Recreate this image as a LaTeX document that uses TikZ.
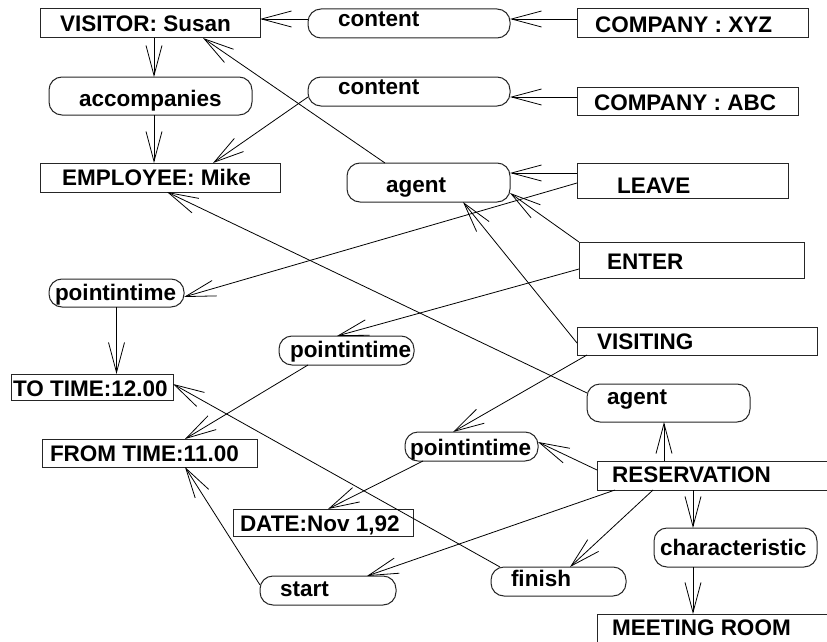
\documentclass[tikz,border=0pt]{standalone}
\usepackage{fontspec}
\setmainfont{Liberation Sans}
\usetikzlibrary{arrows.meta}
\begin{document}
\begin{tikzpicture}[x=1pt,y=-1pt,
  rbox/.style={draw=black!85,line width=1pt,inner sep=0pt,outer sep=0pt,rectangle},
  obox/.style={rbox,rounded corners=13pt},
  txt/.style={anchor=base west,inner sep=0pt,outer sep=0pt,font=\fontsize{22.5}{27}\selectfont\bfseries},
  arr/.style={line width=0.8pt,-{Straight Barb[length=30pt,width=16pt,line width=0.8pt]}}]
\useasboundingbox (0,0) rectangle (827,642);
\clip (0,0) rectangle (827,642);
\fill[white] (0,0) rectangle (827,642);
% boxes
\node[rbox,minimum width=220pt,minimum height=29pt] (vis) at (150,23.5) {};
\node[obox,minimum width=202pt,minimum height=29pt] (cont1) at (409,23.5) {};
\node[rbox,minimum width=231pt,minimum height=29pt] (xyz) at (692.5,23.5) {};
\node[obox,minimum width=203pt,minimum height=38pt] (acc) at (150.5,96) {};
\node[obox,minimum width=202pt,minimum height=29pt] (cont2) at (409,91.5) {};
\node[rbox,minimum width=221pt,minimum height=28pt] (abc) at (687.5,101) {};
\node[rbox,minimum width=240pt,minimum height=29pt] (emp) at (160,177.5) {};
\node[obox,minimum width=163pt,minimum height=39pt] (ag1) at (428.5,182.5) {};
\node[rbox,minimum width=211pt,minimum height=35pt] (leave) at (682.5,180.5) {};
\node[rbox,minimum width=225pt,minimum height=36pt] (enter) at (691.5,260) {};
\node[obox,minimum width=135pt,minimum height=28pt] (pt1) at (116.5,293) {};
\node[rbox,minimum width=240pt,minimum height=28pt] (visiting) at (697,341) {};
\node[obox,minimum width=135pt,minimum height=29pt] (pt2) at (346.5,350.5) {};
\node[rbox,minimum width=162pt,minimum height=26pt] (totime) at (92,387) {};
\node[obox,minimum width=163pt,minimum height=38pt] (ag2) at (668.5,403) {};
\node[rbox,minimum width=215pt,minimum height=28pt] (from) at (149.5,453) {};
\node[obox,minimum width=133pt,minimum height=29pt] (pt3) at (471.5,446.5) {};
\node[rbox,minimum width=243pt,minimum height=29pt] (res) at (718.5,475.5) {};
\node[rbox,minimum width=180pt,minimum height=27pt] (date) at (323,522.5) {};
\node[obox,minimum width=163pt,minimum height=39pt] (char) at (735.5,547.5) {};
\node[obox,minimum width=136pt,minimum height=29pt] (start) at (328,590.5) {};
\node[obox,minimum width=135pt,minimum height=29pt] (finish) at (558.5,581.5) {};
\node[rbox,minimum width=253pt,minimum height=46pt] (meet) at (723.5,637) {};
% texts
\node[txt] (vis-t) at (60,31.7) {VISITOR: Susan};
\node[txt] (cont1-t) at (338,27) {content};
\node[txt] (xyz-t) at (595,33) {COMPANY : XYZ};
\node[txt] (acc-t) at (79,106) {accompanies};
\node[txt] (cont2-t) at (338,95) {content};
\node[txt] (abc-t) at (594,110) {COMPANY : ABC};
\node[txt] (emp-t) at (62,185) {EMPLOYEE: Mike};
\node[txt] (ag1-t) at (386,192) {agent};
\node[txt] (leave-t) at (617,193) {LEAVE};
\node[txt] (enter-t) at (607,269) {ENTER};
\node[txt] (pt1-t) at (55,300) {pointintime};
\node[txt] (visiting-t) at (597,349) {VISITING};
\node[txt] (pt2-t) at (290,357) {pointintime};
\node[txt] (totime-t) at (13,396) {TO TIME:12.00};
\node[txt] (ag2-t) at (607,404) {agent};
\node[txt] (from-t) at (50,461) {FROM TIME:11.00};
\node[txt] (pt3-t) at (410,455) {pointintime};
\node[txt] (res-t) at (612,482) {RESERVATION};
\node[txt] (date-t) at (240,531) {DATE:Nov 1,92};
\node[txt] (char-t) at (660,555) {characteristic};
\node[txt] (start-t) at (280,596) {start};
\node[txt] (finish-t) at (511,586) {finish};
\node[txt] (meet-t) at (612,635) {MEETING ROOM};
% helper points on boxes
\coordinate (resup) at ([xshift=67pt]res.north west);
\coordinate (resdn) at ([xshift=96pt]res.south west);
% connectors
\draw[arr] ([yshift=4.5pt]cont1.west) -- ([yshift=4.5pt]vis.east);
\draw[arr] ([yshift=4.5pt]xyz.west) -- ([yshift=4.5pt]cont1.east);
\draw[arr] ([xshift=4pt]vis.south) -- ([xshift=4pt]vis.south |- acc.north);
\draw[arr] ([xshift=4pt]vis.south |- acc.south) -- ([xshift=4pt]vis.south |- emp.north);
\draw[arr] ([yshift=4pt]abc.west) -- ([yshift=-5.5pt]cont2.east);
\draw[arr] ([yshift=-5.5pt]cont2.west) -- ([xshift=53pt]emp.north);
\draw[arr] ([xshift=-43.5pt]ag1.north) -- ([xshift=53pt]vis.south);
\draw[arr] ([yshift=7.5pt]leave.west) -- ([yshift=9.5pt]ag1.east);
\draw[arr] (enter.north west) -- ([yshift=-10.5pt]ag1.east);
\draw[arr] ([yshift=-2pt]visiting.west) -- ([xshift=34.5pt]ag1.south);
\draw[arr] ([yshift=-2.5pt]leave.west) -- ([yshift=-4pt]pt1.east);
\draw[arr] (pt1.south) -- (pt1.south |- totime.north);
\draw[arr] ([yshift=-9pt]enter.west) -- ([xshift=-9.5pt]pt2.north);
\draw[arr] ([xshift=-38.5pt]pt2.south) -- ([xshift=35.5pt]from.north);
\draw[arr] ([yshift=10pt]ag2.west) -- ([xshift=7pt]emp.south);
\draw[arr] ([xshift=10pt]visiting.south west) -- ([xshift=-18.5pt]pt3.north);
\draw[arr] (resup) -- (resup |- ag2.south);
\draw[arr] ([yshift=5.5pt]res.west) -- ([yshift=4.5pt]pt3.east);
\draw[arr] ([xshift=18pt]pt3.south west) -- ([xshift=5pt]date.north);
\draw[arr] ([xshift=9pt]finish.north west) -- ([yshift=3pt]totime.east);
\draw[arr] ([xshift=18pt]res.south west) -- ([xshift=39pt]start.north);
\draw[arr] ([xshift=56pt]res.south west) -- ([xshift=11.5pt]finish.north);
\draw[arr] ([yshift=5.5pt]start.west) -- ([xshift=35.5pt]from.south);
\draw[arr] (resdn) -- (resdn |- char.north);
\draw[arr] (resdn |- char.south) -- (resdn |- meet.north);
\end{tikzpicture}
\end{document}
